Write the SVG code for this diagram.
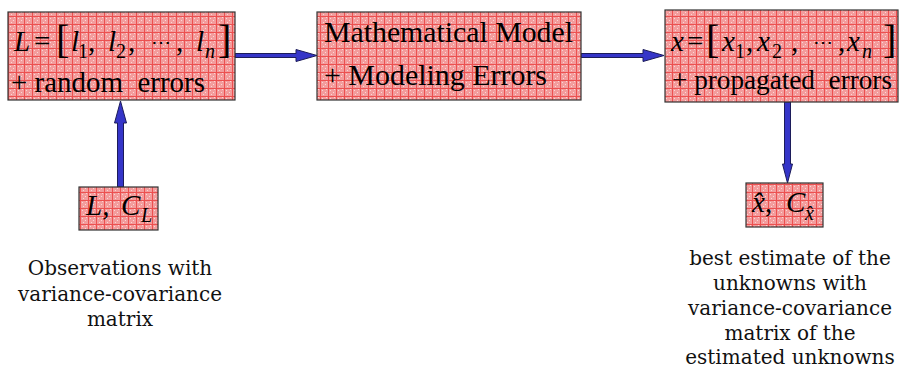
<svg xmlns="http://www.w3.org/2000/svg" width="902" height="370" viewBox="0 0 902 370">
<style>
.box{fill:url(#pink);stroke:#333;stroke-width:1.2}
.t{font-family:"Liberation Serif","Times New Roman",serif;font-size:29px;fill:#000}
.t2{font-family:"Liberation Serif","Times New Roman",serif;font-size:28px;fill:#000}
.m{font-family:"Liberation Serif","Times New Roman",serif;font-style:italic;font-size:29px;fill:#000}
.r{font-family:"Liberation Serif","Times New Roman",serif;font-size:29px;fill:#000}
.dots{font-family:"DejaVu Serif",serif;font-size:20px;fill:#000}
.br{font-family:"Liberation Serif","Times New Roman",serif;font-size:40px;fill:#000}
.sub{font-family:"Liberation Serif","Times New Roman",serif;font-size:20px;fill:#000}
.subi{font-family:"Liberation Serif","Times New Roman",serif;font-style:italic;font-size:20px;fill:#000}
.cap{font-family:"DejaVu Serif",serif;font-size:20px;fill:#111;text-anchor:middle}
.arr{fill:#3535c8;stroke:#1c1c5a;stroke-width:1}
</style>
<defs>
<pattern id="pink" width="8" height="8" patternUnits="userSpaceOnUse">
<rect width="8" height="8" fill="#f39c9c"/>
<rect x="2" y="2" width="1" height="1" fill="#fcd6d6"/>
<rect x="5" y="4" width="1" height="1" fill="#fcd6d6"/>
<rect x="3" y="6" width="1" height="1" fill="#fcd6d6"/>
<rect x="6" y="1" width="1" height="1" fill="#fcd6d6"/>
<rect x="0" y="0" width="8" height="1" fill="#ec5050"/>
<rect x="0" y="0" width="1" height="8" fill="#ec5050"/>
</pattern>
</defs>

<g id="connectors">
<path class="arr" d="M235,53.5 L296,53.5 L296,49.5 L317,55.5 L296,61.5 L296,57.5 L235,57.5 Z"/>
<path class="arr" d="M581,53.5 L643,53.5 L643,49.5 L664,55.5 L643,61.5 L643,57.5 L581,57.5 Z"/>
<path class="arr" d="M117.5,187 L117.5,123 L114.5,123 L120.5,101 L126.5,123 L123.5,123 L123.5,187 Z"/>
<path class="arr" d="M784.5,102 L784.5,164 L782.5,164 L787.5,183 L792.5,164 L790.5,164 L790.5,102 Z"/>
</g>

<g id="node-observations">
<rect class="box" x="8" y="12" width="227" height="88"/>
<text class="m" x="14" y="51">L</text>
<text class="r" x="34" y="51">=</text>
<text class="br" x="56" y="53">[</text>
<text class="m" x="71" y="51">l</text>
<text class="sub" x="78" y="58">1</text>
<text class="r" x="88" y="51">,</text>
<text class="m" x="108" y="51">l</text>
<text class="sub" x="116" y="58">2</text>
<text class="r" x="128" y="51">,</text>
<text class="dots" x="151" y="49">⋯</text>
<text class="r" x="176" y="51">,</text>
<text class="m" x="196" y="51">l</text>
<text class="subi" x="205" y="58">n</text>
<text class="br" x="218" y="53">]</text>
<text class="t" x="11" y="92" xml:space="preserve" textLength="194" lengthAdjust="spacingAndGlyphs">+ random  errors</text>
</g>

<g id="node-model">
<rect class="box" x="317" y="12" width="264" height="88"/>
<text class="t" x="324" y="42" textLength="249" lengthAdjust="spacingAndGlyphs">Mathematical Model</text>
<text class="t" x="324" y="85" textLength="223" lengthAdjust="spacingAndGlyphs">+ Modeling Errors</text>
</g>

<g id="node-unknowns">
<rect class="box" x="665" y="10" width="233" height="92"/>
<text class="m" x="671" y="51">x</text>
<text class="r" x="687" y="51">=</text>
<text class="br" x="706" y="53">[</text>
<text class="m" x="722" y="51">x</text>
<text class="sub" x="735" y="58">1</text>
<text class="r" x="746" y="51">,</text>
<text class="m" x="757" y="51">x</text>
<text class="sub" x="772" y="58">2</text>
<text class="r" x="791" y="51">,</text>
<text class="dots" x="813" y="49">⋯</text>
<text class="r" x="838" y="51">,</text>
<text class="m" x="847" y="51">x</text>
<text class="subi" x="862" y="58">n</text>
<text class="br" x="883" y="53">]</text>
<text class="t2" x="672" y="89" xml:space="preserve" textLength="220" lengthAdjust="spacingAndGlyphs">+ propagated  errors</text>
</g>

<g id="node-input">
<rect class="box" x="79" y="187" width="79" height="43"/>
<text class="m" x="86" y="215">L,</text>
<text class="m" x="121" y="215">C</text>
<text class="subi" x="141" y="222">L</text>
</g>

<g id="node-estimate">
<rect class="box" x="746" y="183" width="77" height="44"/>
<text class="m" x="752" y="212">x&#x302;</text>
<text class="r" x="765" y="212">,</text>
<text class="m" x="786" y="212">C</text>
<text class="subi" x="805" y="220">x&#x302;</text>
</g>

<g id="captions">
<text class="cap" x="120" y="275">Observations with</text>
<text class="cap" x="120" y="301">variance-covariance</text>
<text class="cap" x="120" y="326">matrix</text>
<text class="cap" x="790" y="265">best estimate of the</text>
<text class="cap" x="790" y="290">unknowns with</text>
<text class="cap" x="790" y="315">variance-covariance</text>
<text class="cap" x="790" y="340">matrix of the</text>
<text class="cap" x="790" y="364">estimated unknowns</text>
</g>
</svg>
